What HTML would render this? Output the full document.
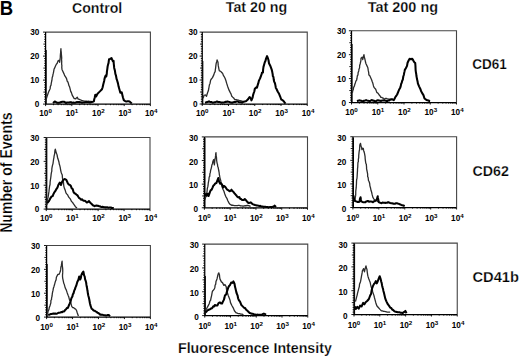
<!DOCTYPE html>
<html><head><meta charset="utf-8"><style>
html,body{margin:0;padding:0;background:#fff;width:520px;height:356px;overflow:hidden}
svg{display:block}
text{font-family:"Liberation Sans",sans-serif;fill:#000}
.tk{font-size:8.2px;font-weight:bold}
.sp{font-size:6.2px}
.ttl{font-size:15.1px;font-weight:bold;stroke:#fff;stroke-width:0.25px}
</style></head><body>
<svg width="520" height="356" viewBox="0 0 520 356">
<rect width="520" height="356" fill="#fff"/>
<text x="-0.2" y="14.7" style="font-size:20px;font-weight:bold" textLength="13.4" lengthAdjust="spacingAndGlyphs">B</text>
<text x="72.0" y="13.0" class="ttl" textLength="50.2" lengthAdjust="spacingAndGlyphs">Control</text>
<text x="225.8" y="12.0" class="ttl" textLength="61.4" lengthAdjust="spacingAndGlyphs">Tat 20 ng</text>
<text x="367.8" y="12.0" class="ttl" textLength="70.2" lengthAdjust="spacingAndGlyphs">Tat 200 ng</text>
<text x="472.2" y="69.3" class="ttl" textLength="34.6" lengthAdjust="spacingAndGlyphs">CD61</text>
<text x="472.5" y="176.3" class="ttl" textLength="36.3" lengthAdjust="spacingAndGlyphs">CD62</text>
<text x="472.5" y="281.8" class="ttl" textLength="46.5" lengthAdjust="spacingAndGlyphs">CD41b</text>
<text x="178" y="353" class="ttl" textLength="153.8" lengthAdjust="spacingAndGlyphs">Fluorescence Intensity</text>
<text transform="translate(12.1,232.8) rotate(-90)" class="ttl" style="font-size:15.8px" textLength="120.3" lengthAdjust="spacingAndGlyphs">Number of Events</text>
<polyline points="45.6,32.1 150.4,32.1 150.4,104.1" fill="none" stroke="#444" stroke-width="1.1"/>
<polyline points="45.6,32.1 45.6,104.1 150.4,104.1" fill="none" stroke="#000" stroke-width="1.25"/>
<path d="M43.00,104.10H45.60M44.20,101.70H45.60M44.20,99.30H45.60M44.20,96.90H45.60M44.20,94.50H45.60M43.40,92.10H45.60M44.20,89.70H45.60M44.20,87.30H45.60M44.20,84.90H45.60M44.20,82.50H45.60M43.00,80.10H45.60M44.20,77.70H45.60M44.20,75.30H45.60M44.20,72.90H45.60M44.20,70.50H45.60M43.40,68.10H45.60M44.20,65.70H45.60M44.20,63.30H45.60M44.20,60.90H45.60M44.20,58.50H45.60M43.00,56.10H45.60M44.20,53.70H45.60M44.20,51.30H45.60M44.20,48.90H45.60M44.20,46.50H45.60M43.40,44.10H45.60M44.20,41.70H45.60M44.20,39.30H45.60M44.20,36.90H45.60M44.20,34.50H45.60M43.00,32.10H45.60M45.60,104.10V106.10M53.49,104.10V105.20M58.10,104.10V105.20M61.37,104.10V105.20M63.91,104.10V105.20M65.99,104.10V105.20M67.74,104.10V105.20M69.26,104.10V105.20M70.60,104.10V105.20M71.80,104.10V106.10M79.69,104.10V105.20M84.30,104.10V105.20M87.57,104.10V105.20M90.11,104.10V105.20M92.19,104.10V105.20M93.94,104.10V105.20M95.46,104.10V105.20M96.80,104.10V105.20M98.00,104.10V106.10M105.89,104.10V105.20M110.50,104.10V105.20M113.77,104.10V105.20M116.31,104.10V105.20M118.39,104.10V105.20M120.14,104.10V105.20M121.66,104.10V105.20M123.00,104.10V105.20M124.20,104.10V106.10M132.09,104.10V105.20M136.70,104.10V105.20M139.97,104.10V105.20M142.51,104.10V105.20M144.59,104.10V105.20M146.34,104.10V105.20M147.86,104.10V105.20M149.20,104.10V105.20M150.40,104.10V106.10" stroke="#000" stroke-width="0.9" fill="none"/>
<text x="39.40" y="35.20" text-anchor="end" class="tk">30</text>
<text x="39.40" y="59.20" text-anchor="end" class="tk">20</text>
<text x="39.40" y="83.20" text-anchor="end" class="tk">10</text>
<text x="39.40" y="107.20" text-anchor="end" class="tk">0</text>
<text x="45.60" y="116.40" class="tk" text-anchor="middle">10<tspan class="sp" dy="-3.1">0</tspan></text>
<text x="72.00" y="116.40" class="tk" text-anchor="middle">10<tspan class="sp" dy="-3.1">1</tspan></text>
<text x="98.40" y="116.40" class="tk" text-anchor="middle">10<tspan class="sp" dy="-3.1">2</tspan></text>
<text x="124.80" y="116.40" class="tk" text-anchor="middle">10<tspan class="sp" dy="-3.1">3</tspan></text>
<text x="151.20" y="116.40" class="tk" text-anchor="middle">10<tspan class="sp" dy="-3.1">4</tspan></text>
<path d="M46.20,50.00V104.10" stroke="#000" stroke-width="1.0"/>
<polyline points="46.00,101.50 46.10,99.81 46.50,98.35 47.01,96.63 47.88,93.98 48.68,91.72 49.48,90.10 50.12,88.69 50.37,86.37 51.01,85.18 51.27,83.21 51.50,82.08 51.92,80.22 52.21,77.53 52.75,76.07 53.02,74.20 53.36,73.16 53.67,71.34 54.11,68.97 54.58,68.15 55.48,65.94 56.24,64.43 57.21,63.26 58.02,60.84 58.96,60.34 59.64,62.32 59.84,60.57 60.28,57.69 60.34,55.45 60.53,53.43 60.64,52.59 60.70,50.89 60.93,48.77 61.02,50.47 61.29,52.70 61.34,54.04 61.48,55.32 61.70,58.01 61.54,59.94 61.70,61.01 61.69,62.19 61.64,64.08 61.88,65.61 61.77,67.40 62.01,69.45 62.58,70.71 64.02,73.87 64.86,75.95 65.57,76.89 66.57,78.68 67.20,81.19 67.79,81.78 68.43,83.54 68.93,85.72 69.53,86.61 70.12,88.82 70.71,91.33 71.51,92.82 72.17,95.09 73.23,96.93 74.09,98.51 74.82,98.61 75.74,98.87 76.42,97.95 77.30,97.17 78.07,99.01 78.95,99.23 79.86,99.70 80.88,99.98 81.53,100.55 82.45,100.70 83.21,100.87 84.30,101.20 84.97,101.16 85.68,101.13 86.58,101.23 87.40,101.44 88.49,101.10 89.09,101.31 89.91,101.39 91.04,101.46 91.81,101.68 92.60,101.60" fill="none" stroke="#2c2c2c" stroke-width="1.3" stroke-linejoin="round"/>
<polyline points="53.00,103.00 53.96,102.20 55.08,101.46 56.08,102.21 56.92,102.73 58.15,102.80 59.09,102.68 60.07,102.53 60.81,102.13 61.46,102.02 62.33,101.72 63.26,101.66 63.98,101.79 65.15,102.38 65.96,102.99 66.72,102.56 67.51,102.43 68.52,102.49 69.19,102.46 70.09,102.26 70.85,102.15 71.68,102.61 72.39,102.67 73.29,102.54 74.09,102.73 74.77,102.84 75.73,102.44 76.30,102.41 77.10,102.00 78.09,102.17 78.90,101.97 79.65,102.44 80.41,102.30 81.05,102.33 82.04,102.80 82.93,102.53 83.71,102.41 84.31,102.50 85.14,102.18 86.03,102.09 86.78,102.16 87.72,102.17 88.39,102.32 89.32,102.48 90.13,102.47 90.96,102.25 91.76,102.01 92.75,101.72 93.89,101.29 94.19,99.48 94.62,97.97 95.31,94.71 96.09,96.45 97.52,93.75 98.93,92.37 100.40,90.88 101.98,89.19 102.58,87.48 103.30,84.16 104.16,81.02 104.46,79.13 104.93,77.37 105.61,75.48 106.23,76.52 106.78,73.78 106.89,71.98 107.33,68.77 107.62,66.50 108.10,64.35 108.52,63.20 108.86,60.47 109.09,59.32 110.04,58.94 111.54,58.01 112.10,59.66 112.90,61.29 113.58,60.83 113.75,63.52 113.95,65.27 114.19,67.94 114.65,69.64 114.95,70.83 115.38,73.87 115.90,75.29 116.64,79.20 117.13,80.45 117.98,83.36 118.59,86.58 119.52,89.69 120.33,92.74 121.73,92.23 122.36,94.98 122.97,97.50 123.78,100.09 125.33,101.32 126.39,101.56 127.51,101.33 128.61,101.32 129.55,101.48 131.23,102.92 131.80,103.40" fill="none" stroke="#000" stroke-width="2.05" stroke-linejoin="round"/>
<polyline points="202.25,32.1 307.25,32.1 307.25,104.0" fill="none" stroke="#444" stroke-width="1.1"/>
<polyline points="202.25,32.1 202.25,104.0 307.25,104.0" fill="none" stroke="#000" stroke-width="1.25"/>
<path d="M199.65,104.00H202.25M200.85,101.60H202.25M200.85,99.21H202.25M200.85,96.81H202.25M200.85,94.41H202.25M200.05,92.02H202.25M200.85,89.62H202.25M200.85,87.22H202.25M200.85,84.83H202.25M200.85,82.43H202.25M199.65,80.03H202.25M200.85,77.64H202.25M200.85,75.24H202.25M200.85,72.84H202.25M200.85,70.45H202.25M200.05,68.05H202.25M200.85,65.65H202.25M200.85,63.26H202.25M200.85,60.86H202.25M200.85,58.46H202.25M199.65,56.07H202.25M200.85,53.67H202.25M200.85,51.27H202.25M200.85,48.88H202.25M200.85,46.48H202.25M200.05,44.08H202.25M200.85,41.69H202.25M200.85,39.29H202.25M200.85,36.89H202.25M200.85,34.50H202.25M199.65,32.10H202.25M202.25,104.00V106.00M210.15,104.00V105.10M214.77,104.00V105.10M218.05,104.00V105.10M220.60,104.00V105.10M222.68,104.00V105.10M224.43,104.00V105.10M225.96,104.00V105.10M227.30,104.00V105.10M228.50,104.00V106.00M236.40,104.00V105.10M241.02,104.00V105.10M244.30,104.00V105.10M246.85,104.00V105.10M248.93,104.00V105.10M250.68,104.00V105.10M252.21,104.00V105.10M253.55,104.00V105.10M254.75,104.00V106.00M262.65,104.00V105.10M267.27,104.00V105.10M270.55,104.00V105.10M273.10,104.00V105.10M275.18,104.00V105.10M276.93,104.00V105.10M278.46,104.00V105.10M279.80,104.00V105.10M281.00,104.00V106.00M288.90,104.00V105.10M293.52,104.00V105.10M296.80,104.00V105.10M299.35,104.00V105.10M301.43,104.00V105.10M303.18,104.00V105.10M304.71,104.00V105.10M306.05,104.00V105.10M307.25,104.00V106.00" stroke="#000" stroke-width="0.9" fill="none"/>
<text x="197.50" y="34.90" text-anchor="end" class="tk">30</text>
<text x="197.50" y="58.87" text-anchor="end" class="tk">20</text>
<text x="197.50" y="82.83" text-anchor="end" class="tk">10</text>
<text x="197.50" y="106.80" text-anchor="end" class="tk">0</text>
<text x="202.25" y="115.60" class="tk" text-anchor="middle">10<tspan class="sp" dy="-3.1">0</tspan></text>
<text x="228.70" y="115.60" class="tk" text-anchor="middle">10<tspan class="sp" dy="-3.1">1</tspan></text>
<text x="255.15" y="115.60" class="tk" text-anchor="middle">10<tspan class="sp" dy="-3.1">2</tspan></text>
<text x="281.60" y="115.60" class="tk" text-anchor="middle">10<tspan class="sp" dy="-3.1">3</tspan></text>
<text x="308.05" y="115.60" class="tk" text-anchor="middle">10<tspan class="sp" dy="-3.1">4</tspan></text>
<path d="M202.85,61.00V104.00" stroke="#000" stroke-width="1.0"/>
<polyline points="203.20,98.25 203.94,95.48 205.32,94.93 206.50,96.26 207.31,93.48 207.81,92.08 208.27,91.03 208.70,89.00 209.06,86.82 209.45,84.72 210.02,83.43 210.54,80.57 210.98,79.51 212.48,77.65 213.90,74.64 214.40,72.83 215.14,71.56 215.38,69.38 215.61,68.19 215.80,66.07 216.16,63.48 216.77,61.40 217.10,59.96 218.00,62.27 218.20,65.04 218.32,65.89 218.65,67.61 218.92,69.12 219.34,70.97 220.11,71.06 221.04,71.74 221.71,72.68 222.56,73.10 223.40,75.46 224.30,76.78 225.03,78.21 225.97,80.83 226.66,83.26 227.57,86.18 228.33,88.24 229.05,90.15 230.31,92.64 231.00,93.90 231.79,96.17 232.77,97.16 233.65,97.94 234.41,99.16 235.29,99.72 236.07,99.52 237.03,99.80 237.90,100.05 238.75,100.24 239.52,100.58 240.16,100.69 241.09,100.91 242.07,101.17 242.80,101.60" fill="none" stroke="#2c2c2c" stroke-width="1.3" stroke-linejoin="round"/>
<polyline points="205.00,102.80 205.84,102.54 206.65,102.29 207.25,101.96 208.27,101.81 209.01,101.40 209.67,101.71 210.53,101.98 211.33,101.94 212.11,102.46 213.14,102.70 213.76,102.40 214.66,102.19 215.44,102.11 216.07,101.86 216.93,101.45 217.77,101.87 218.52,101.96 219.43,101.92 220.39,102.34 221.10,102.51 221.99,102.61 222.72,102.42 223.58,102.43 224.63,102.30 225.32,101.73 226.31,101.90 226.93,101.58 227.97,101.64 228.69,101.81 229.51,101.95 230.22,102.46 231.17,102.57 232.06,102.76 232.95,102.32 233.52,102.26 234.50,101.89 235.27,101.91 236.12,101.62 237.10,101.52 237.91,101.52 238.55,102.01 239.56,102.18 240.27,102.30 241.13,102.21 242.03,102.61 242.84,102.08 243.58,101.79 244.68,101.45 245.57,101.27 246.23,100.99 247.81,99.56 249.54,97.10 250.79,98.27 251.42,100.36 252.61,97.55 253.06,95.08 253.79,92.81 254.39,91.25 254.76,89.00 255.89,87.60 256.95,87.71 257.67,85.12 258.18,83.72 258.84,80.92 260.07,78.38 261.10,75.53 261.72,73.99 261.92,72.80 262.95,72.57 263.09,69.58 263.48,66.87 264.10,64.73 264.78,62.23 265.52,60.72 265.92,59.00 267.06,56.18 267.95,58.48 268.48,60.01 268.99,63.25 270.24,65.70 271.06,67.81 271.62,69.33 272.23,71.86 272.72,74.47 272.84,76.19 273.41,76.85 273.82,80.05 274.15,81.62 274.98,83.30 275.51,85.86 275.87,88.01 276.40,88.75 277.80,91.73 279.07,93.80 280.18,96.53 281.22,99.53 282.58,100.10 284.13,101.79 284.74,102.76 285.60,103.50" fill="none" stroke="#000" stroke-width="2.05" stroke-linejoin="round"/>
<polyline points="351.5,30.75 456.5,30.75 456.5,102.5" fill="none" stroke="#444" stroke-width="1.1"/>
<polyline points="351.5,30.75 351.5,102.5 456.5,102.5" fill="none" stroke="#000" stroke-width="1.25"/>
<path d="M348.90,102.50H351.50M350.10,100.11H351.50M350.10,97.72H351.50M350.10,95.33H351.50M350.10,92.93H351.50M349.30,90.54H351.50M350.10,88.15H351.50M350.10,85.76H351.50M350.10,83.37H351.50M350.10,80.97H351.50M348.90,78.58H351.50M350.10,76.19H351.50M350.10,73.80H351.50M350.10,71.41H351.50M350.10,69.02H351.50M349.30,66.62H351.50M350.10,64.23H351.50M350.10,61.84H351.50M350.10,59.45H351.50M350.10,57.06H351.50M348.90,54.67H351.50M350.10,52.27H351.50M350.10,49.88H351.50M350.10,47.49H351.50M350.10,45.10H351.50M349.30,42.71H351.50M350.10,40.32H351.50M350.10,37.92H351.50M350.10,35.53H351.50M350.10,33.14H351.50M348.90,30.75H351.50M351.50,102.50V104.50M359.40,102.50V103.60M364.02,102.50V103.60M367.30,102.50V103.60M369.85,102.50V103.60M371.93,102.50V103.60M373.68,102.50V103.60M375.21,102.50V103.60M376.55,102.50V103.60M377.75,102.50V104.50M385.65,102.50V103.60M390.27,102.50V103.60M393.55,102.50V103.60M396.10,102.50V103.60M398.18,102.50V103.60M399.93,102.50V103.60M401.46,102.50V103.60M402.80,102.50V103.60M404.00,102.50V104.50M411.90,102.50V103.60M416.52,102.50V103.60M419.80,102.50V103.60M422.35,102.50V103.60M424.43,102.50V103.60M426.18,102.50V103.60M427.71,102.50V103.60M429.05,102.50V103.60M430.25,102.50V104.50M438.15,102.50V103.60M442.77,102.50V103.60M446.05,102.50V103.60M448.60,102.50V103.60M450.68,102.50V103.60M452.43,102.50V103.60M453.96,102.50V103.60M455.30,102.50V103.60M456.50,102.50V104.50" stroke="#000" stroke-width="0.9" fill="none"/>
<text x="346.00" y="33.95" text-anchor="end" class="tk">30</text>
<text x="346.00" y="57.87" text-anchor="end" class="tk">20</text>
<text x="346.00" y="81.78" text-anchor="end" class="tk">10</text>
<text x="346.00" y="105.70" text-anchor="end" class="tk">0</text>
<text x="351.50" y="114.60" class="tk" text-anchor="middle">10<tspan class="sp" dy="-3.1">0</tspan></text>
<text x="377.95" y="114.60" class="tk" text-anchor="middle">10<tspan class="sp" dy="-3.1">1</tspan></text>
<text x="404.40" y="114.60" class="tk" text-anchor="middle">10<tspan class="sp" dy="-3.1">2</tspan></text>
<text x="430.85" y="114.60" class="tk" text-anchor="middle">10<tspan class="sp" dy="-3.1">3</tspan></text>
<text x="457.30" y="114.60" class="tk" text-anchor="middle">10<tspan class="sp" dy="-3.1">4</tspan></text>
<path d="M352.10,44.00V102.50" stroke="#000" stroke-width="1.0"/>
<polyline points="352.40,92.90 352.73,90.71 353.26,89.69 353.64,87.27 354.36,86.17 354.82,84.29 355.32,82.91 356.02,80.81 356.64,80.04 357.02,78.25 357.37,75.65 357.94,74.98 358.16,72.38 358.74,70.96 358.99,69.17 359.58,67.83 359.66,65.52 360.13,63.97 360.41,62.76 360.87,60.82 361.01,58.31 362.09,57.26 362.72,59.65 363.38,56.69 363.94,54.66 364.41,57.49 364.83,58.79 365.33,61.08 365.49,62.03 365.99,63.80 366.77,65.40 367.87,67.78 368.35,70.92 368.72,72.66 368.85,74.90 369.68,75.56 370.46,77.24 371.14,78.78 371.70,80.02 372.18,81.44 372.86,83.29 373.49,85.94 374.21,87.65 375.70,89.30 376.78,92.39 377.99,93.24 379.43,95.29 380.11,96.03 380.86,97.35 381.94,97.45 382.56,98.04 383.42,98.12 384.33,98.98 385.37,98.66 386.03,98.22 386.97,98.84 387.83,98.87 388.53,99.22 389.51,99.19 390.31,99.67 390.96,99.79 391.96,99.39 392.97,99.59 393.70,99.30" fill="none" stroke="#2c2c2c" stroke-width="1.3" stroke-linejoin="round"/>
<polyline points="357.00,101.20 357.93,100.82 359.00,100.50 359.90,100.38 361.07,100.66 362.08,101.00 362.95,101.25 363.96,100.79 364.87,100.65 366.08,100.07 366.87,100.43 368.02,100.67 369.14,101.13 370.15,101.03 370.88,100.43 372.00,100.03 372.98,100.62 373.98,100.76 375.05,101.25 376.10,100.97 376.89,100.60 377.94,100.34 378.96,100.49 379.91,100.83 380.92,100.89 382.12,100.59 382.95,100.50 384.15,100.16 384.92,100.47 386.05,100.86 386.88,101.21 388.10,100.62 389.12,100.41 389.94,99.71 391.11,99.34 392.42,99.30 393.86,100.08 394.68,98.53 395.58,96.64 396.18,95.96 397.14,94.49 398.61,90.93 399.34,89.20 400.23,87.76 400.66,86.36 401.25,83.52 401.71,82.85 402.21,80.74 402.86,79.46 403.28,76.49 403.82,75.00 404.08,73.39 404.61,71.13 404.83,69.87 405.84,68.18 407.02,65.84 407.57,62.70 408.75,60.31 409.61,58.81 411.11,59.32 412.12,58.71 412.90,59.69 413.71,61.27 414.30,62.15 415.22,63.02 415.46,66.00 415.50,67.32 415.60,69.82 415.80,71.60 416.26,74.23 416.40,75.75 416.89,78.33 416.99,79.08 417.69,82.07 417.87,83.38 419.07,86.35 420.24,88.67 421.05,90.95 422.17,93.12 423.45,95.12 424.50,98.46 426.17,99.78 427.32,100.31 428.42,100.54 429.42,101.04 430.10,101.20" fill="none" stroke="#000" stroke-width="2.05" stroke-linejoin="round"/>
<polyline points="46.25,137.5 150.0,137.5 150.0,209.1" fill="none" stroke="#444" stroke-width="1.1"/>
<polyline points="46.25,137.5 46.25,209.1 150.0,209.1" fill="none" stroke="#000" stroke-width="1.25"/>
<path d="M43.65,209.10H46.25M44.85,206.71H46.25M44.85,204.33H46.25M44.85,201.94H46.25M44.85,199.55H46.25M44.05,197.17H46.25M44.85,194.78H46.25M44.85,192.39H46.25M44.85,190.01H46.25M44.85,187.62H46.25M43.65,185.23H46.25M44.85,182.85H46.25M44.85,180.46H46.25M44.85,178.07H46.25M44.85,175.69H46.25M44.05,173.30H46.25M44.85,170.91H46.25M44.85,168.53H46.25M44.85,166.14H46.25M44.85,163.75H46.25M43.65,161.37H46.25M44.85,158.98H46.25M44.85,156.59H46.25M44.85,154.21H46.25M44.85,151.82H46.25M44.05,149.43H46.25M44.85,147.05H46.25M44.85,144.66H46.25M44.85,142.27H46.25M44.85,139.89H46.25M43.65,137.50H46.25M46.25,209.10V211.10M54.06,209.10V210.20M58.63,209.10V210.20M61.87,209.10V210.20M64.38,209.10V210.20M66.43,209.10V210.20M68.17,209.10V210.20M69.67,209.10V210.20M71.00,209.10V210.20M72.19,209.10V211.10M80.00,209.10V210.20M84.56,209.10V210.20M87.80,209.10V210.20M90.32,209.10V210.20M92.37,209.10V210.20M94.11,209.10V210.20M95.61,209.10V210.20M96.94,209.10V210.20M98.12,209.10V211.10M105.93,209.10V210.20M110.50,209.10V210.20M113.74,209.10V210.20M116.25,209.10V210.20M118.31,209.10V210.20M120.04,209.10V210.20M121.55,209.10V210.20M122.88,209.10V210.20M124.06,209.10V211.10M131.87,209.10V210.20M136.44,209.10V210.20M139.68,209.10V210.20M142.19,209.10V210.20M144.25,209.10V210.20M145.98,209.10V210.20M147.49,209.10V210.20M148.81,209.10V210.20M150.00,209.10V211.10" stroke="#000" stroke-width="0.9" fill="none"/>
<text x="39.40" y="140.80" text-anchor="end" class="tk">30</text>
<text x="39.40" y="164.67" text-anchor="end" class="tk">20</text>
<text x="39.40" y="188.53" text-anchor="end" class="tk">10</text>
<text x="39.40" y="212.40" text-anchor="end" class="tk">0</text>
<text x="46.25" y="221.00" class="tk" text-anchor="middle">10<tspan class="sp" dy="-3.1">0</tspan></text>
<text x="72.39" y="221.00" class="tk" text-anchor="middle">10<tspan class="sp" dy="-3.1">1</tspan></text>
<text x="98.53" y="221.00" class="tk" text-anchor="middle">10<tspan class="sp" dy="-3.1">2</tspan></text>
<text x="124.66" y="221.00" class="tk" text-anchor="middle">10<tspan class="sp" dy="-3.1">3</tspan></text>
<text x="150.80" y="221.00" class="tk" text-anchor="middle">10<tspan class="sp" dy="-3.1">4</tspan></text>
<path d="M46.85,138.00V209.10" stroke="#000" stroke-width="1.0"/>
<polyline points="46.90,205.00 47.07,202.83 47.06,201.53 47.47,199.78 47.98,197.63 48.29,195.78 48.64,193.57 48.94,191.66 49.14,189.77 49.47,187.25 49.62,185.99 50.04,184.47 50.12,182.14 50.36,180.26 50.72,177.88 50.98,175.93 51.10,174.59 51.35,172.85 51.80,171.07 51.83,168.84 52.16,166.91 52.42,165.63 53.00,163.60 53.27,161.52 53.64,158.87 53.97,157.37 54.07,156.05 54.63,153.95 54.91,150.57 55.30,149.16 55.83,151.26 56.29,153.04 56.98,154.50 57.23,155.99 57.75,158.31 58.20,159.55 58.88,161.68 59.32,164.35 59.79,165.54 60.21,167.36 60.61,169.99 61.12,172.22 61.71,173.71 62.25,174.95 62.38,177.28 62.66,179.12 63.07,180.99 63.45,182.00 63.59,184.02 63.86,186.34 64.43,188.37 65.15,190.04 65.95,192.82 66.70,193.89 67.69,194.95 68.73,197.16 69.82,198.42 70.59,199.45 71.51,201.44 72.56,202.38 73.51,203.97 74.55,205.31 75.41,206.69 77.00,208.00" fill="none" stroke="#2c2c2c" stroke-width="1.3" stroke-linejoin="round"/>
<polyline points="47.20,203.20 48.69,201.41 49.78,199.46 50.49,198.08 51.62,196.43 52.63,196.12 53.45,194.01 54.54,192.02 55.41,190.89 56.38,189.10 57.42,187.61 58.42,184.75 59.81,182.56 61.02,184.97 62.18,181.58 63.62,179.62 64.89,179.02 66.33,179.88 67.84,183.21 68.65,184.59 69.64,184.83 70.79,185.87 71.71,188.30 72.70,189.13 73.54,192.09 74.51,193.21 75.38,193.62 76.31,194.43 77.47,195.37 78.45,197.02 79.23,198.18 80.23,198.72 81.21,199.73 82.19,199.34 83.02,200.30 83.90,200.74 84.92,200.67 86.08,201.81 86.85,202.50 87.82,202.12 88.97,201.06 89.86,202.35 90.89,203.31 91.83,204.13 92.81,205.19 93.72,205.57 94.54,206.13 95.59,205.73 96.62,205.42 97.19,205.67 98.30,205.87 98.89,206.18 99.70,206.27 100.71,206.76 101.57,206.98 102.36,206.83 103.26,207.08 104.12,207.38 104.94,207.15 105.80,207.59 106.41,207.33 107.24,207.34 108.34,207.65 109.22,207.56 109.94,207.56 110.82,207.52 111.79,207.98 112.79,207.99 113.75,208.25" fill="none" stroke="#000" stroke-width="2.05" stroke-linejoin="round"/>
<polyline points="204.4,136.9 307.5,136.9 307.5,207.75" fill="none" stroke="#444" stroke-width="1.1"/>
<polyline points="204.4,136.9 204.4,207.75 307.5,207.75" fill="none" stroke="#000" stroke-width="1.25"/>
<path d="M201.80,207.75H204.40M203.00,205.39H204.40M203.00,203.03H204.40M203.00,200.66H204.40M203.00,198.30H204.40M202.20,195.94H204.40M203.00,193.58H204.40M203.00,191.22H204.40M203.00,188.86H204.40M203.00,186.50H204.40M201.80,184.13H204.40M203.00,181.77H204.40M203.00,179.41H204.40M203.00,177.05H204.40M203.00,174.69H204.40M202.20,172.32H204.40M203.00,169.96H204.40M203.00,167.60H204.40M203.00,165.24H204.40M203.00,162.88H204.40M201.80,160.52H204.40M203.00,158.16H204.40M203.00,155.79H204.40M203.00,153.43H204.40M203.00,151.07H204.40M202.20,148.71H204.40M203.00,146.35H204.40M203.00,143.99H204.40M203.00,141.62H204.40M203.00,139.26H204.40M201.80,136.90H204.40M204.40,207.75V209.75M212.16,207.75V208.85M216.70,207.75V208.85M219.92,207.75V208.85M222.42,207.75V208.85M224.46,207.75V208.85M226.18,207.75V208.85M227.68,207.75V208.85M229.00,207.75V208.85M230.18,207.75V209.75M237.93,207.75V208.85M242.47,207.75V208.85M245.69,207.75V208.85M248.19,207.75V208.85M250.23,207.75V208.85M251.96,207.75V208.85M253.45,207.75V208.85M254.77,207.75V208.85M255.95,207.75V209.75M263.71,207.75V208.85M268.25,207.75V208.85M271.47,207.75V208.85M273.97,207.75V208.85M276.01,207.75V208.85M277.73,207.75V208.85M279.23,207.75V208.85M280.55,207.75V208.85M281.73,207.75V209.75M289.48,207.75V208.85M294.02,207.75V208.85M297.24,207.75V208.85M299.74,207.75V208.85M301.78,207.75V208.85M303.51,207.75V208.85M305.00,207.75V208.85M306.32,207.75V208.85M307.50,207.75V209.75" stroke="#000" stroke-width="0.9" fill="none"/>
<text x="198.10" y="140.95" text-anchor="end" class="tk">30</text>
<text x="198.10" y="164.57" text-anchor="end" class="tk">20</text>
<text x="198.10" y="188.18" text-anchor="end" class="tk">10</text>
<text x="198.10" y="211.80" text-anchor="end" class="tk">0</text>
<text x="204.40" y="220.65" class="tk" text-anchor="middle">10<tspan class="sp" dy="-3.1">0</tspan></text>
<text x="230.38" y="220.65" class="tk" text-anchor="middle">10<tspan class="sp" dy="-3.1">1</tspan></text>
<text x="256.35" y="220.65" class="tk" text-anchor="middle">10<tspan class="sp" dy="-3.1">2</tspan></text>
<text x="282.33" y="220.65" class="tk" text-anchor="middle">10<tspan class="sp" dy="-3.1">3</tspan></text>
<text x="308.30" y="220.65" class="tk" text-anchor="middle">10<tspan class="sp" dy="-3.1">4</tspan></text>
<path d="M205.00,137.50V207.75" stroke="#000" stroke-width="1.0"/>
<polyline points="205.00,199.50 205.73,196.93 206.16,195.60 206.35,194.12 206.70,193.35 207.07,191.29 207.34,188.24 207.78,186.91 208.09,184.86 208.26,183.20 208.55,181.73 208.90,179.75 209.21,176.94 209.74,176.34 209.90,173.62 210.29,172.64 210.63,170.29 211.17,168.60 211.63,166.56 211.85,165.00 212.37,163.98 212.84,161.55 213.69,159.61 213.95,162.08 214.09,163.58 214.37,164.86 214.50,163.65 214.71,161.74 215.00,158.89 215.30,157.96 215.62,155.63 215.69,153.83 215.98,152.64 216.10,154.67 216.17,155.83 216.48,157.28 216.61,159.71 216.68,160.74 217.09,163.18 217.42,163.88 217.72,166.54 218.08,167.23 218.58,169.61 218.71,170.50 219.10,172.30 219.36,174.60 219.69,176.24 220.17,179.07 220.71,180.24 221.02,182.64 222.09,186.68 222.98,189.23 223.94,191.32 224.81,194.05 225.66,196.35 226.89,198.29 227.70,200.52 228.69,202.38 229.68,204.05 230.70,204.61 231.58,205.27 232.61,205.26 233.39,205.33 234.51,205.59 235.42,205.62 236.37,205.65 237.27,205.56 238.28,205.42 239.18,205.33 240.21,205.77 241.03,205.85 242.04,205.92 242.97,206.15 244.08,206.02 244.95,205.67 245.82,205.77 246.94,205.50 247.79,205.46 248.83,205.66 249.73,206.14 250.70,206.10" fill="none" stroke="#2c2c2c" stroke-width="1.3" stroke-linejoin="round"/>
<polyline points="205.00,196.00 205.82,194.04 206.77,195.66 207.74,193.72 208.61,196.06 209.73,192.57 210.61,190.39 211.58,189.70 212.65,187.37 213.27,185.80 214.37,184.78 215.28,183.42 216.36,183.09 217.13,181.04 218.27,178.01 219.16,181.87 220.19,183.71 220.96,183.05 222.08,184.58 223.04,187.43 223.92,185.96 224.99,186.57 225.84,187.69 226.84,189.32 227.64,189.81 228.56,190.39 229.61,191.27 230.56,190.82 231.53,189.68 232.46,191.17 233.57,192.00 234.37,193.34 235.39,194.32 236.39,195.45 237.26,196.71 238.36,197.54 239.30,196.97 240.24,198.89 241.20,199.05 241.90,200.00 243.14,199.93 243.88,200.02 244.79,199.01 245.93,200.12 246.70,201.18 247.86,202.51 248.87,203.02 249.81,202.81 250.82,202.41 251.75,203.40 252.66,204.07 253.52,204.48 254.41,204.70 255.08,205.01 255.89,205.14 256.70,205.41 257.56,205.57 258.50,205.75 259.44,205.93 260.27,205.88 261.02,206.24 261.94,206.44 262.64,206.45 263.37,206.82 264.37,206.81 265.20,206.68 266.13,207.08 267.02,206.93 267.75,207.00 268.49,207.17 269.54,207.09 270.48,206.93 271.24,206.94 272.21,207.01 272.98,206.88 273.89,206.22 274.69,205.64 276.00,207.00" fill="none" stroke="#000" stroke-width="2.05" stroke-linejoin="round"/>
<polyline points="352.9,136.75 456.6,136.75 456.6,207.5" fill="none" stroke="#444" stroke-width="1.1"/>
<polyline points="352.9,136.75 352.9,207.5 456.6,207.5" fill="none" stroke="#000" stroke-width="1.25"/>
<path d="M350.30,207.50H352.90M351.50,205.14H352.90M351.50,202.78H352.90M351.50,200.43H352.90M351.50,198.07H352.90M350.70,195.71H352.90M351.50,193.35H352.90M351.50,190.99H352.90M351.50,188.63H352.90M351.50,186.28H352.90M350.30,183.92H352.90M351.50,181.56H352.90M351.50,179.20H352.90M351.50,176.84H352.90M351.50,174.48H352.90M350.70,172.12H352.90M351.50,169.77H352.90M351.50,167.41H352.90M351.50,165.05H352.90M351.50,162.69H352.90M350.30,160.33H352.90M351.50,157.97H352.90M351.50,155.62H352.90M351.50,153.26H352.90M351.50,150.90H352.90M350.70,148.54H352.90M351.50,146.18H352.90M351.50,143.82H352.90M351.50,141.47H352.90M351.50,139.11H352.90M350.30,136.75H352.90M352.90,207.50V209.50M360.70,207.50V208.60M365.27,207.50V208.60M368.51,207.50V208.60M371.02,207.50V208.60M373.07,207.50V208.60M374.81,207.50V208.60M376.31,207.50V208.60M377.64,207.50V208.60M378.82,207.50V209.50M386.63,207.50V208.60M391.19,207.50V208.60M394.43,207.50V208.60M396.95,207.50V208.60M399.00,207.50V208.60M400.73,207.50V208.60M402.24,207.50V208.60M403.56,207.50V208.60M404.75,207.50V209.50M412.55,207.50V208.60M417.12,207.50V208.60M420.36,207.50V208.60M422.87,207.50V208.60M424.92,207.50V208.60M426.66,207.50V208.60M428.16,207.50V208.60M429.49,207.50V208.60M430.68,207.50V209.50M438.48,207.50V208.60M443.04,207.50V208.60M446.28,207.50V208.60M448.80,207.50V208.60M450.85,207.50V208.60M452.58,207.50V208.60M454.09,207.50V208.60M455.41,207.50V208.60M456.60,207.50V209.50" stroke="#000" stroke-width="0.9" fill="none"/>
<text x="346.25" y="141.05" text-anchor="end" class="tk">30</text>
<text x="346.25" y="164.63" text-anchor="end" class="tk">20</text>
<text x="346.25" y="188.22" text-anchor="end" class="tk">10</text>
<text x="346.25" y="211.80" text-anchor="end" class="tk">0</text>
<text x="352.90" y="220.90" class="tk" text-anchor="middle">10<tspan class="sp" dy="-3.1">0</tspan></text>
<text x="379.02" y="220.90" class="tk" text-anchor="middle">10<tspan class="sp" dy="-3.1">1</tspan></text>
<text x="405.15" y="220.90" class="tk" text-anchor="middle">10<tspan class="sp" dy="-3.1">2</tspan></text>
<text x="431.28" y="220.90" class="tk" text-anchor="middle">10<tspan class="sp" dy="-3.1">3</tspan></text>
<text x="457.40" y="220.90" class="tk" text-anchor="middle">10<tspan class="sp" dy="-3.1">4</tspan></text>
<path d="M353.50,137.50V207.50" stroke="#000" stroke-width="1.0"/>
<polyline points="355.00,202.00 355.15,199.95 355.28,197.30 355.64,195.40 355.74,193.70 355.75,191.33 355.98,189.38 356.19,187.94 356.33,185.20 356.43,184.47 356.52,181.39 356.65,179.42 356.93,178.79 357.13,176.51 357.21,174.95 357.36,172.63 357.49,170.83 357.51,168.90 357.75,166.97 357.80,165.20 357.94,162.47 358.36,161.39 358.36,159.32 358.69,157.65 358.73,155.39 358.98,153.12 359.18,151.25 359.56,149.77 359.69,147.01 359.79,145.06 360.52,143.33 361.08,146.29 361.42,146.94 361.93,149.68 362.59,148.27 363.28,148.48 363.61,150.40 363.85,151.31 364.36,152.71 364.77,154.77 365.08,156.62 365.16,158.58 365.52,161.31 365.81,163.23 366.28,164.17 366.56,167.02 366.58,168.97 367.01,170.76 367.33,172.44 367.64,174.06 367.65,176.60 368.15,177.52 368.47,180.54 369.17,181.74 369.68,183.46 369.92,185.83 370.55,188.04 371.05,190.51 371.59,192.00 372.04,194.21 372.88,197.45 373.99,199.09 374.94,200.37 375.74,200.80 376.89,200.67 377.80,201.40 378.65,201.50" fill="none" stroke="#2c2c2c" stroke-width="1.3" stroke-linejoin="round"/>
<polyline points="353.40,195.40 353.83,197.61 354.30,200.61 355.64,201.18 356.77,201.55 357.66,202.02 358.69,201.87 359.48,201.72 359.95,198.93 360.53,197.21 360.92,199.70 361.20,201.18 362.36,202.01 363.33,202.15 364.44,202.32 365.42,202.22 366.13,201.49 367.29,201.14 368.23,201.08 369.02,201.80 370.10,201.57 370.91,201.48 372.03,201.64 372.89,202.28 373.94,201.32 374.72,201.30 375.89,200.22 376.76,199.57 377.73,196.32 377.92,197.93 378.39,199.91 378.67,202.01 379.63,202.49 380.46,202.82 381.50,203.15 382.51,202.55 383.30,202.81 384.32,202.82 385.19,202.89 386.45,202.76 387.25,202.76 388.13,202.14 389.14,202.57 390.21,202.95 391.24,203.17 391.89,203.21 392.87,203.53 393.77,203.83 394.98,203.69 395.97,203.31 396.67,203.22 397.72,203.55 398.84,203.84 399.67,204.20 400.74,204.66 401.40,204.95 402.16,205.14 403.24,205.64 403.78,205.60 404.75,206.00" fill="none" stroke="#000" stroke-width="2.05" stroke-linejoin="round"/>
<polyline points="46.6,245.5 150.4,245.5 150.4,317.1" fill="none" stroke="#444" stroke-width="1.1"/>
<polyline points="46.6,245.5 46.6,317.1 150.4,317.1" fill="none" stroke="#000" stroke-width="1.25"/>
<path d="M44.00,317.10H46.60M45.20,314.71H46.60M45.20,312.33H46.60M45.20,309.94H46.60M45.20,307.55H46.60M44.40,305.17H46.60M45.20,302.78H46.60M45.20,300.39H46.60M45.20,298.01H46.60M45.20,295.62H46.60M44.00,293.23H46.60M45.20,290.85H46.60M45.20,288.46H46.60M45.20,286.07H46.60M45.20,283.69H46.60M44.40,281.30H46.60M45.20,278.91H46.60M45.20,276.53H46.60M45.20,274.14H46.60M45.20,271.75H46.60M44.00,269.37H46.60M45.20,266.98H46.60M45.20,264.59H46.60M45.20,262.21H46.60M45.20,259.82H46.60M44.40,257.43H46.60M45.20,255.05H46.60M45.20,252.66H46.60M45.20,250.27H46.60M45.20,247.89H46.60M44.00,245.50H46.60M46.60,317.10V319.10M54.41,317.10V318.20M58.98,317.10V318.20M62.22,317.10V318.20M64.74,317.10V318.20M66.79,317.10V318.20M68.53,317.10V318.20M70.04,317.10V318.20M71.36,317.10V318.20M72.55,317.10V319.10M80.36,317.10V318.20M84.93,317.10V318.20M88.17,317.10V318.20M90.69,317.10V318.20M92.74,317.10V318.20M94.48,317.10V318.20M95.99,317.10V318.20M97.31,317.10V318.20M98.50,317.10V319.10M106.31,317.10V318.20M110.88,317.10V318.20M114.12,317.10V318.20M116.64,317.10V318.20M118.69,317.10V318.20M120.43,317.10V318.20M121.94,317.10V318.20M123.26,317.10V318.20M124.45,317.10V319.10M132.26,317.10V318.20M136.83,317.10V318.20M140.07,317.10V318.20M142.59,317.10V318.20M144.64,317.10V318.20M146.38,317.10V318.20M147.89,317.10V318.20M149.21,317.10V318.20M150.40,317.10V319.10" stroke="#000" stroke-width="0.9" fill="none"/>
<text x="40.00" y="249.05" text-anchor="end" class="tk">30</text>
<text x="40.00" y="272.92" text-anchor="end" class="tk">20</text>
<text x="40.00" y="296.78" text-anchor="end" class="tk">10</text>
<text x="40.00" y="320.65" text-anchor="end" class="tk">0</text>
<text x="46.60" y="329.70" class="tk" text-anchor="middle">10<tspan class="sp" dy="-3.1">0</tspan></text>
<text x="72.75" y="329.70" class="tk" text-anchor="middle">10<tspan class="sp" dy="-3.1">1</tspan></text>
<text x="98.90" y="329.70" class="tk" text-anchor="middle">10<tspan class="sp" dy="-3.1">2</tspan></text>
<text x="125.05" y="329.70" class="tk" text-anchor="middle">10<tspan class="sp" dy="-3.1">3</tspan></text>
<text x="151.20" y="329.70" class="tk" text-anchor="middle">10<tspan class="sp" dy="-3.1">4</tspan></text>
<path d="M47.20,264.00V317.10" stroke="#000" stroke-width="1.0"/>
<polyline points="47.50,314.00 48.16,311.03 48.90,309.67 49.21,307.78 50.09,305.40 50.85,302.81 50.92,300.30 51.48,299.61 51.61,297.82 52.08,296.03 52.33,293.45 52.66,291.76 53.06,290.17 53.44,287.93 53.92,286.65 54.49,284.80 55.23,281.95 55.66,280.61 56.08,279.91 56.38,277.30 57.88,274.34 58.94,274.48 59.65,272.93 60.24,271.55 60.69,269.38 60.93,266.91 61.35,265.70 61.71,263.00 62.12,261.22 62.19,262.98 62.33,265.85 62.48,266.82 62.72,268.95 62.74,270.56 62.72,272.38 62.51,275.14 62.54,276.77 62.71,278.31 63.15,280.31 63.73,283.20 64.14,283.94 65.27,288.05 66.34,290.12 67.15,292.67 68.25,295.63 68.75,296.85 69.51,299.97 70.68,302.16 71.62,306.06 72.54,307.48 73.71,307.53 74.51,308.57 75.43,308.94 76.50,310.39 77.31,312.99 78.40,316.00" fill="none" stroke="#2c2c2c" stroke-width="1.3" stroke-linejoin="round"/>
<polyline points="48.20,315.00 49.10,314.75 49.89,314.53 50.57,313.97 51.62,314.00 52.47,313.79 53.50,313.63 54.61,313.64 55.30,313.50 56.39,313.67 57.30,313.42 58.43,312.85 59.20,312.68 60.28,312.50 61.21,312.11 62.15,312.17 63.16,311.46 64.16,311.42 65.09,310.11 66.08,309.19 67.06,307.90 67.90,307.91 68.81,305.52 69.66,303.65 70.62,301.35 71.38,298.36 72.40,296.55 72.83,294.34 73.51,293.38 74.28,290.50 74.91,289.36 75.38,287.61 76.17,285.92 77.29,281.96 78.40,279.69 79.19,276.49 80.19,279.57 80.88,277.93 81.27,275.41 82.10,273.35 83.33,271.56 83.63,272.84 84.11,275.38 84.73,276.65 85.05,279.09 85.50,280.29 86.14,282.51 86.46,284.93 86.77,286.84 87.01,287.67 87.43,290.54 87.58,291.15 87.86,293.29 88.27,295.52 88.90,297.76 89.27,299.55 89.93,303.26 90.36,305.11 90.92,306.79 91.61,308.74 92.65,309.45 93.63,310.44 94.78,310.78 95.53,311.28 96.53,311.86 97.44,312.74 98.38,313.08 99.19,313.67 100.00,314.69 100.82,314.57 101.56,314.85 102.39,314.84 103.31,315.08 104.09,315.24 105.01,315.33 105.97,315.52 106.92,315.28 107.88,315.00 108.76,314.98 110.00,316.25" fill="none" stroke="#000" stroke-width="2.05" stroke-linejoin="round"/>
<polyline points="204.75,244.1 307.75,244.1 307.75,315.6" fill="none" stroke="#444" stroke-width="1.1"/>
<polyline points="204.75,244.1 204.75,315.6 307.75,315.6" fill="none" stroke="#000" stroke-width="1.25"/>
<path d="M202.15,315.60H204.75M203.35,313.22H204.75M203.35,310.83H204.75M203.35,308.45H204.75M203.35,306.07H204.75M202.55,303.68H204.75M203.35,301.30H204.75M203.35,298.92H204.75M203.35,296.53H204.75M203.35,294.15H204.75M202.15,291.77H204.75M203.35,289.38H204.75M203.35,287.00H204.75M203.35,284.62H204.75M203.35,282.23H204.75M202.55,279.85H204.75M203.35,277.47H204.75M203.35,275.08H204.75M203.35,272.70H204.75M203.35,270.32H204.75M202.15,267.93H204.75M203.35,265.55H204.75M203.35,263.17H204.75M203.35,260.78H204.75M203.35,258.40H204.75M202.55,256.02H204.75M203.35,253.63H204.75M203.35,251.25H204.75M203.35,248.87H204.75M203.35,246.48H204.75M202.15,244.10H204.75M204.75,315.60V317.60M212.50,315.60V316.70M217.04,315.60V316.70M220.25,315.60V316.70M222.75,315.60V316.70M224.79,315.60V316.70M226.51,315.60V316.70M228.00,315.60V316.70M229.32,315.60V316.70M230.50,315.60V317.60M238.25,315.60V316.70M242.79,315.60V316.70M246.00,315.60V316.70M248.50,315.60V316.70M250.54,315.60V316.70M252.26,315.60V316.70M253.75,315.60V316.70M255.07,315.60V316.70M256.25,315.60V317.60M264.00,315.60V316.70M268.54,315.60V316.70M271.75,315.60V316.70M274.25,315.60V316.70M276.29,315.60V316.70M278.01,315.60V316.70M279.50,315.60V316.70M280.82,315.60V316.70M282.00,315.60V317.60M289.75,315.60V316.70M294.29,315.60V316.70M297.50,315.60V316.70M300.00,315.60V316.70M302.04,315.60V316.70M303.76,315.60V316.70M305.25,315.60V316.70M306.57,315.60V316.70M307.75,315.60V317.60" stroke="#000" stroke-width="0.9" fill="none"/>
<text x="198.75" y="248.30" text-anchor="end" class="tk">30</text>
<text x="198.75" y="272.13" text-anchor="end" class="tk">20</text>
<text x="198.75" y="295.97" text-anchor="end" class="tk">10</text>
<text x="198.75" y="319.80" text-anchor="end" class="tk">0</text>
<text x="204.75" y="328.70" class="tk" text-anchor="middle">10<tspan class="sp" dy="-3.1">0</tspan></text>
<text x="230.70" y="328.70" class="tk" text-anchor="middle">10<tspan class="sp" dy="-3.1">1</tspan></text>
<text x="256.65" y="328.70" class="tk" text-anchor="middle">10<tspan class="sp" dy="-3.1">2</tspan></text>
<text x="282.60" y="328.70" class="tk" text-anchor="middle">10<tspan class="sp" dy="-3.1">3</tspan></text>
<text x="308.55" y="328.70" class="tk" text-anchor="middle">10<tspan class="sp" dy="-3.1">4</tspan></text>
<path d="M205.35,276.00V315.60" stroke="#000" stroke-width="1.0"/>
<polyline points="205.30,310.00 206.49,309.09 207.55,306.81 208.75,304.66 209.39,303.17 209.94,300.98 210.52,300.51 211.03,298.00 211.61,295.53 211.98,293.46 212.37,291.40 213.08,290.52 214.37,288.79 214.87,287.43 215.12,285.09 215.67,284.39 215.98,281.60 216.52,280.21 217.00,278.91 217.31,277.53 217.77,275.75 218.09,274.11 218.81,272.90 219.49,274.98 219.65,277.09 220.03,279.12 221.39,281.90 222.48,282.60 223.86,285.40 224.96,284.55 226.24,286.83 226.51,289.39 226.92,291.10 227.45,292.96 228.20,295.40 228.73,296.87 229.34,298.31 230.02,300.13 230.48,302.61 231.85,305.52 233.20,307.82 234.41,310.77 236.12,312.97 236.70,312.96 237.67,313.36 238.58,313.68 239.48,313.68 240.17,313.84 240.97,314.08 241.86,314.21 242.80,314.47 243.50,314.80" fill="none" stroke="#2c2c2c" stroke-width="1.3" stroke-linejoin="round"/>
<polyline points="205.50,312.50 206.51,311.58 207.46,310.26 208.35,309.94 209.28,309.55 210.00,309.36 210.87,308.45 211.62,308.44 212.59,307.53 213.28,306.32 214.26,306.38 214.88,305.02 215.89,305.49 216.81,305.40 217.48,305.48 218.39,303.27 219.40,302.52 220.14,302.48 221.10,303.52 222.05,303.55 222.69,302.07 223.84,299.88 224.43,297.85 224.94,295.56 226.28,294.23 226.78,292.11 227.52,290.00 228.17,287.80 228.90,286.29 229.97,285.10 231.15,282.57 232.63,282.86 233.40,281.34 234.50,283.78 235.09,287.06 235.48,288.46 236.20,291.63 236.62,293.22 237.01,294.12 237.62,295.69 238.08,298.24 238.72,299.93 240.12,301.88 241.39,305.10 242.21,305.88 242.96,306.65 244.16,307.91 245.12,307.94 245.94,309.53 247.14,310.56 248.13,311.50 248.97,312.39 249.92,313.09 251.11,313.42 251.92,313.71 252.57,313.83 253.41,314.09 254.27,314.56 255.05,314.61 255.97,314.81 256.73,314.76 257.81,314.64 258.49,314.74 259.36,314.67 260.15,314.69 261.10,314.87 262.06,314.66 262.93,313.98 263.89,313.64 265.10,314.13 266.00,314.80" fill="none" stroke="#000" stroke-width="2.05" stroke-linejoin="round"/>
<polyline points="354.0,243.1 457.25,243.1 457.25,314.5" fill="none" stroke="#444" stroke-width="1.1"/>
<polyline points="354.0,243.1 354.0,314.5 457.25,314.5" fill="none" stroke="#000" stroke-width="1.25"/>
<path d="M351.40,314.50H354.00M352.60,312.12H354.00M352.60,309.74H354.00M352.60,307.36H354.00M352.60,304.98H354.00M351.80,302.60H354.00M352.60,300.22H354.00M352.60,297.84H354.00M352.60,295.46H354.00M352.60,293.08H354.00M351.40,290.70H354.00M352.60,288.32H354.00M352.60,285.94H354.00M352.60,283.56H354.00M352.60,281.18H354.00M351.80,278.80H354.00M352.60,276.42H354.00M352.60,274.04H354.00M352.60,271.66H354.00M352.60,269.28H354.00M351.40,266.90H354.00M352.60,264.52H354.00M352.60,262.14H354.00M352.60,259.76H354.00M352.60,257.38H354.00M351.80,255.00H354.00M352.60,252.62H354.00M352.60,250.24H354.00M352.60,247.86H354.00M352.60,245.48H354.00M351.40,243.10H354.00M354.00,314.50V316.50M361.77,314.50V315.60M366.32,314.50V315.60M369.54,314.50V315.60M372.04,314.50V315.60M374.09,314.50V315.60M375.81,314.50V315.60M377.31,314.50V315.60M378.63,314.50V315.60M379.81,314.50V316.50M387.58,314.50V315.60M392.13,314.50V315.60M395.35,314.50V315.60M397.85,314.50V315.60M399.90,314.50V315.60M401.63,314.50V315.60M403.12,314.50V315.60M404.44,314.50V315.60M405.62,314.50V316.50M413.40,314.50V315.60M417.94,314.50V315.60M421.17,314.50V315.60M423.67,314.50V315.60M425.71,314.50V315.60M427.44,314.50V315.60M428.94,314.50V315.60M430.26,314.50V315.60M431.44,314.50V316.50M439.21,314.50V315.60M443.75,314.50V315.60M446.98,314.50V315.60M449.48,314.50V315.60M451.52,314.50V315.60M453.25,314.50V315.60M454.75,314.50V315.60M456.07,314.50V315.60M457.25,314.50V316.50" stroke="#000" stroke-width="0.9" fill="none"/>
<text x="347.50" y="247.50" text-anchor="end" class="tk">30</text>
<text x="347.50" y="271.30" text-anchor="end" class="tk">20</text>
<text x="347.50" y="295.10" text-anchor="end" class="tk">10</text>
<text x="347.50" y="318.90" text-anchor="end" class="tk">0</text>
<text x="354.00" y="328.10" class="tk" text-anchor="middle">10<tspan class="sp" dy="-3.1">0</tspan></text>
<text x="380.01" y="328.10" class="tk" text-anchor="middle">10<tspan class="sp" dy="-3.1">1</tspan></text>
<text x="406.02" y="328.10" class="tk" text-anchor="middle">10<tspan class="sp" dy="-3.1">2</tspan></text>
<text x="432.04" y="328.10" class="tk" text-anchor="middle">10<tspan class="sp" dy="-3.1">3</tspan></text>
<text x="458.05" y="328.10" class="tk" text-anchor="middle">10<tspan class="sp" dy="-3.1">4</tspan></text>
<path d="M354.60,244.00V314.50" stroke="#000" stroke-width="1.0"/>
<polyline points="355.45,301.60 356.10,299.13 356.65,296.89 357.10,295.33 357.49,293.49 357.94,291.56 358.59,289.13 358.93,287.89 359.33,286.56 359.52,284.22 360.51,281.65 360.80,280.12 361.25,277.72 361.63,275.48 361.91,274.04 362.13,272.69 362.38,270.85 363.61,268.65 364.45,271.75 364.92,269.50 365.40,267.91 365.97,265.92 366.42,267.86 366.97,269.53 367.25,272.12 367.73,275.37 368.14,276.94 368.35,277.49 368.85,278.94 369.56,280.83 370.20,282.38 370.62,284.68 371.11,286.49 371.50,287.78 372.17,288.66 372.59,291.43 372.86,292.36 373.91,295.38 374.41,297.50 374.84,299.05 375.80,302.69 376.82,305.76 378.33,307.48 379.76,309.16 380.50,309.90 381.68,310.90 382.43,310.91 383.57,311.40 384.42,311.31 385.52,311.54 386.49,311.78 387.18,312.20 388.23,312.18 389.33,312.20 390.20,312.10" fill="none" stroke="#2c2c2c" stroke-width="1.3" stroke-linejoin="round"/>
<polyline points="354.90,306.35 355.68,309.06 357.33,306.77 358.76,308.61 360.10,305.65 361.54,306.47 363.16,302.93 364.40,304.32 365.64,302.20 367.16,300.97 368.89,298.98 370.16,295.52 371.14,293.66 371.50,291.16 372.01,288.58 372.91,286.18 373.89,284.13 374.95,282.79 375.82,281.13 376.78,283.42 377.76,281.21 378.82,278.37 379.72,276.20 380.74,279.37 381.20,281.57 381.65,282.94 382.06,285.46 382.65,287.62 382.96,288.64 383.41,290.90 383.93,292.86 384.56,295.43 385.28,298.63 386.39,301.35 387.80,304.24 389.10,305.94 390.30,307.74 391.27,308.00 392.17,309.54 393.10,310.00 393.96,310.82 394.85,311.52 395.98,311.88 397.00,311.95 397.73,312.16 398.66,312.18 399.82,312.27 400.64,312.79 401.69,312.69 402.73,313.15 403.65,312.19 404.61,311.81 405.41,310.93 406.50,313.20" fill="none" stroke="#000" stroke-width="2.05" stroke-linejoin="round"/>
</svg>
</body></html>
